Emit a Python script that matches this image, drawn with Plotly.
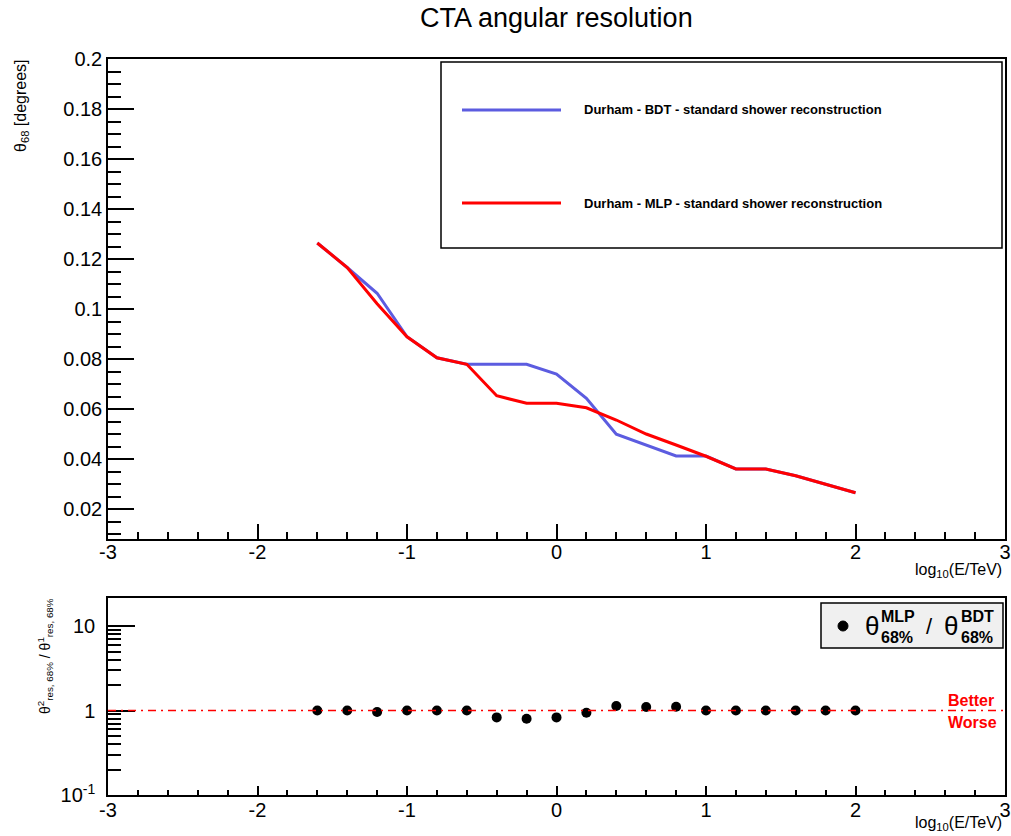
import plotly.graph_objects as go

# ---------------- data ----------------
log_e = [-1.6, -1.4, -1.2, -1.0, -0.8, -0.6, -0.4, -0.2, 0.0, 0.2,
         0.4, 0.6, 0.8, 1.0, 1.2, 1.4, 1.6, 1.8, 2.0]
theta_bdt = [0.1264, 0.1166, 0.1063, 0.0889, 0.0805, 0.0779, 0.0779, 0.0779, 0.0740, 0.0643,
             0.0499, 0.0456, 0.0412, 0.0412, 0.0360, 0.0360, 0.0333, 0.0299, 0.0265]
theta_mlp = [0.1264, 0.1166, 0.1021, 0.0889, 0.0805, 0.0779, 0.0653, 0.0623, 0.0623, 0.0605,
             0.0556, 0.0500, 0.0456, 0.0411, 0.0360, 0.0360, 0.0333, 0.0299, 0.0265]
ratio = [1.0, 1.0, 0.96, 1.0, 1.0, 1.0, 0.83, 0.80, 0.83, 0.94,
         1.13, 1.10, 1.11, 1.0, 1.0, 1.0, 1.0, 1.0, 1.0]

x_ticks = [-3, -2, -1, 0, 1, 2, 3]
x_ticklabels = ["-3", "-2", "-1", "0", "1", "2", "3"]
y_ticks = [0.02, 0.04, 0.06, 0.08, 0.10, 0.12, 0.14, 0.16, 0.18, 0.20]
y_ticklabels = ["0.02", "0.04", "0.06", "0.08", "0.1", "0.12", "0.14", "0.16", "0.18", "0.2"]
r_ticks = [0.1, 1, 10]
r_ticklabels = ["10<sup>-1</sup>", "1", "10"]
r_minor = [0.2, 0.3, 0.4, 0.5, 0.6, 0.7, 0.8, 0.9, 2, 3, 4, 5, 6, 7, 8, 9]

W, H = 1011, 836
FONT = "Liberation Sans, Arial, Helvetica, sans-serif"
BLUE = "rgb(92,92,224)"
RED = "rgb(255,0,0)"


def px(x):
    return x / W


def py(y):
    return 1 - y / H


fig = go.Figure()
fig.add_trace(go.Scatter(x=log_e, y=theta_bdt, mode="lines",
                         line=dict(color=BLUE, width=3), xaxis="x", yaxis="y",
                         name="Durham - BDT - standard shower reconstruction"))
fig.add_trace(go.Scatter(x=log_e, y=theta_mlp, mode="lines",
                         line=dict(color=RED, width=3), xaxis="x", yaxis="y",
                         name="Durham - MLP - standard shower reconstruction"))
fig.add_trace(go.Scatter(x=log_e, y=ratio, mode="markers",
                         marker=dict(color="black", size=10), xaxis="x2", yaxis="y2",
                         name="ratio"))

xdom = [px(108), px(1005)]
axis_common = dict(showline=True, mirror=True, linecolor="black", linewidth=1.5,
                   showgrid=False, zeroline=False, ticks="inside", tickcolor="black",
                   automargin=False,
                   tickwidth=1.5, tickfont=dict(family=FONT, size=20, color="black"))

fig.update_layout(
    width=W, height=H,
    margin=dict(l=0, r=0, t=0, b=0, pad=0),
    paper_bgcolor="white", plot_bgcolor="white",
    showlegend=False,
    xaxis=dict(domain=xdom, range=[-3, 3], anchor="y", tickmode="array",
               tickvals=x_ticks, ticktext=x_ticklabels, ticklen=15, ticklabelstandoff=-6,
               minor=dict(ticks="inside", dtick=0.2, tick0=0, ticklen=7,
                          tickcolor="black", tickwidth=1.5),
               **axis_common),
    yaxis=dict(domain=[py(539), py(59)], range=[0.008, 0.2], anchor="x",
               tickmode="array", tickvals=y_ticks, ticktext=y_ticklabels, ticklen=26,
               minor=dict(ticks="inside", dtick=0.005, tick0=0, ticklen=13,
                          tickcolor="black", tickwidth=1.5),
               **axis_common),
    xaxis2=dict(domain=xdom, range=[-3, 3], anchor="y2", tickmode="array",
                tickvals=x_ticks, ticktext=x_ticklabels, ticklen=9, ticklabelstandoff=-4,
                minor=dict(ticks="inside", dtick=0.2, tick0=0, ticklen=5,
                           tickcolor="black", tickwidth=1.5),
                **axis_common),
    yaxis2=dict(domain=[py(795), py(598)], type="log", range=[-1, 1.333], anchor="x2",
                tickmode="array", tickvals=r_ticks, ticktext=r_ticklabels, ticklen=27,
                ticklabelstandoff=7,
                minor=dict(ticks="inside", tickmode="array", tickvals=r_minor, ticklen=13,
                           tickcolor="black", tickwidth=1.5),
                **axis_common),
)

shapes = []
# dash-dot reference line at ratio 1
shapes.append(dict(type="line", xref="x2", yref="y2", x0=-3, x1=3, y0=1, y1=1,
                   line=dict(color=RED, width=1.5, dash="8px,5px,2px,5px")))
# top legend box
shapes.append(dict(type="rect", xref="paper", yref="paper",
                   x0=px(441), x1=px(1002), y0=py(248), y1=py(62),
                   line=dict(color="black", width=1.5), fillcolor="white", layer="above"))
shapes.append(dict(type="line", xref="paper", yref="paper",
                   x0=px(462), x1=px(561), y0=py(110), y1=py(110),
                   line=dict(color=BLUE, width=3)))
shapes.append(dict(type="line", xref="paper", yref="paper",
                   x0=px(462), x1=px(561), y0=py(203), y1=py(203),
                   line=dict(color=RED, width=3)))
# bottom legend box
shapes.append(dict(type="rect", xref="paper", yref="paper",
                   x0=px(821), x1=px(1003), y0=py(648), y1=py(603),
                   line=dict(color="black", width=1.5), fillcolor="#f0f0f0", layer="above"))
shapes.append(dict(type="circle", xref="paper", yref="paper",
                   x0=px(838), x1=px(848), y0=py(631), y1=py(621),
                   line=dict(color="black", width=1), fillcolor="black", layer="above"))
fig.update_layout(shapes=shapes)

ann = []


def add_text(text, x, y, size, xanchor="center", yanchor="middle", color="black", angle=0):
    ann.append(dict(text=text, x=px(x), y=py(y), xref="paper", yref="paper",
                    xanchor=xanchor, yanchor=yanchor, showarrow=False, textangle=angle,
                    font=dict(family=FONT, size=size, color=color)))


add_text("CTA angular resolution", 556, 18, 27)
add_text("θ<sub>68</sub> [degrees]", 21, 106, 16, angle=-90)
add_text("log<sub>10</sub>(E/TeV)", 1004, 570, 16, xanchor="right")
add_text("log<sub>10</sub>(E/TeV)", 1004, 823, 16, xanchor="right")
add_text("θ<sup>2</sup><sub>res, 68%</sub> / θ<sup>1</sup><sub>res, 68%</sub>", 45, 656, 14, angle=-90)
add_text("<b>Durham - BDT - standard shower reconstruction</b>", 582, 110, 13, xanchor="left")
add_text("<b>Durham - MLP - standard shower reconstruction</b>", 582, 203, 13, xanchor="left")
add_text("<b>Better</b>", 971, 700, 16, color=RED)
add_text("<b>Worse</b>", 972, 722, 16, color=RED)
# ratio legend label
add_text("θ", 871.5, 626, 26)
add_text("<b>MLP</b>", 879, 616, 16, xanchor="left")
add_text("<b>68%</b>", 879, 637, 16, xanchor="left")
add_text("/", 929, 626, 22)
add_text("θ", 950.5, 626, 26)
add_text("<b>BDT</b>", 959, 616, 16, xanchor="left")
add_text("<b>68%</b>", 959, 637, 16, xanchor="left")
fig.update_layout(annotations=ann)

fig.write_html("out.html", config={"displayModeBar": False},
               post_script="document.body.style.margin='0';document.body.style.overflow='hidden';")
